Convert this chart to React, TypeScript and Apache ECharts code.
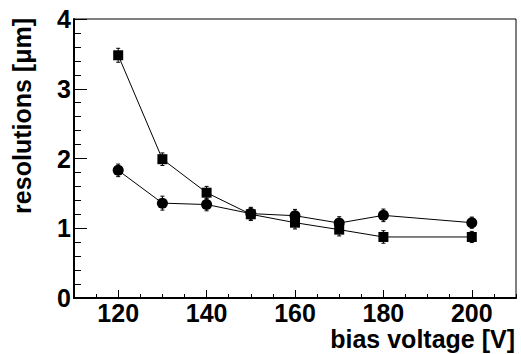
import React, { useEffect, useRef } from "react";
import * as echarts from "echarts";

const voltages = [120, 130, 140, 150, 160, 170, 180, 200];
const squareRes = [3.48, 1.99, 1.51, 1.2, 1.08, 0.98, 0.875, 0.875];
const squareErr = [0.1, 0.09, 0.09, 0.09, 0.09, 0.09, 0.09, 0.08];
const circleRes = [1.83, 1.36, 1.34, 1.21, 1.18, 1.075, 1.185, 1.08];
const circleErr = [0.09, 0.1, 0.09, 0.09, 0.09, 0.09, 0.09, 0.08];
const xLabelValues = [120, 140, 160, 180, 200];
const yTitle = "resolutions [μm]";
const xTitle = "bias voltage [V]";

const FONT = "'Liberation Sans', Arial, Helvetica, sans-serif";

function errorData(vals: number[], errs: number[]) {
  return voltages.map((v, i) => [v, vals[i] - errs[i], vals[i] + errs[i]]);
}

function renderErr(params: any, api: any) {
  const x = api.value(0);
  const lo = api.coord([x, api.value(1)]);
  const hi = api.coord([x, api.value(2)]);
  const style = { stroke: "#000", lineWidth: 1 };
  const cw = 2;
  return {
    type: "group",
    children: [
      { type: "line", shape: { x1: lo[0], y1: lo[1], x2: hi[0], y2: hi[1] }, style },
      { type: "line", shape: { x1: hi[0] - cw, y1: hi[1], x2: hi[0] + cw, y2: hi[1] }, style },
      { type: "line", shape: { x1: lo[0] - cw, y1: lo[1], x2: lo[0] + cw, y2: lo[1] }, style },
    ],
  };
}

export default function App() {
  const ref = useRef<HTMLDivElement>(null);
  useEffect(() => {
    const chart = echarts.init(ref.current!, undefined, { renderer: "svg" });
    const labelStyle = {
      fontFamily: FONT,
      fontWeight: "bold",
      fontSize: 25,
      lineHeight: 20,
      color: "#000",
    };
    chart.setOption({
      animation: false,
      backgroundColor: "#fff",
      grid: {
        left: 74,
        right: 5,
        top: 19,
        bottom: 56,
        show: true,
        borderColor: "#000",
        borderWidth: 1,
        backgroundColor: "transparent",
      },
      xAxis: [
        {
          type: "value",
          min: 110,
          max: 210,
          interval: 5,
          axisLine: { show: true, onZero: false, lineStyle: { color: "#000", width: 2 } },
          axisTick: { show: true, inside: true, length: 4, lineStyle: { color: "#000", width: 1 } },
          axisLabel: { show: false },
          splitLine: { show: false },
        },
        {
          type: "value",
          min: 110,
          max: 210,
          position: "bottom",
          axisLine: { show: false },
          axisTick: {
            show: true,
            inside: true,
            length: 8,
            customValues: xLabelValues,
            lineStyle: { color: "#000", width: 1 },
          },
          axisLabel: { ...labelStyle, margin: 5, customValues: xLabelValues },
          splitLine: { show: false },
        },
      ],
      yAxis: {
        type: "value",
        min: 0,
        max: 4,
        interval: 1,
        axisLine: { show: true, onZero: false, lineStyle: { color: "#000", width: 2 } },
        axisTick: { show: true, inside: true, length: 13, lineStyle: { color: "#000", width: 1 } },
        minorTick: { show: true, splitNumber: 5, length: 7, lineStyle: { color: "#000", width: 1 } },
        axisLabel: { ...labelStyle, margin: 3 },
        splitLine: { show: false },
      },
      graphic: [
        {
          type: "text",
          x: 22,
          y: 18,
          rotation: Math.PI / 2,
          style: {
            text: yTitle,
            font: `bold 25px ${FONT}`,
            fill: "#000",
            align: "right",
            verticalAlign: "middle",
            lineHeight: 22,
          },
        },
        {
          type: "text",
          x: 515,
          y: 339,
          style: {
            text: xTitle,
            font: `bold 25px ${FONT}`,
            fill: "#000",
            align: "right",
            verticalAlign: "middle",
            lineHeight: 22,
          },
        },
      ],
      series: [
        {
          type: "custom",
          xAxisIndex: 0,
          renderItem: renderErr,
          data: errorData(squareRes, squareErr),
          z: 1,
          silent: true,
        },
        {
          type: "custom",
          xAxisIndex: 0,
          renderItem: renderErr,
          data: errorData(circleRes, circleErr),
          z: 1,
          silent: true,
        },
        {
          type: "line",
          xAxisIndex: 0,
          data: voltages.map((v, i) => [v, squareRes[i]]),
          symbol: "rect",
          symbolSize: 10,
          lineStyle: { color: "#000", width: 1 },
          itemStyle: { color: "#000" },
          z: 3,
        },
        {
          type: "line",
          xAxisIndex: 0,
          data: voltages.map((v, i) => [v, circleRes[i]]),
          symbol: "circle",
          symbolSize: 11,
          lineStyle: { color: "#000", width: 1 },
          itemStyle: { color: "#000" },
          z: 3,
        },
      ],
    });
    return () => chart.dispose();
  }, []);
  return <div ref={ref} style={{ width: 521, height: 354, position: "absolute", left: 0, top: 0 }} />;
}
